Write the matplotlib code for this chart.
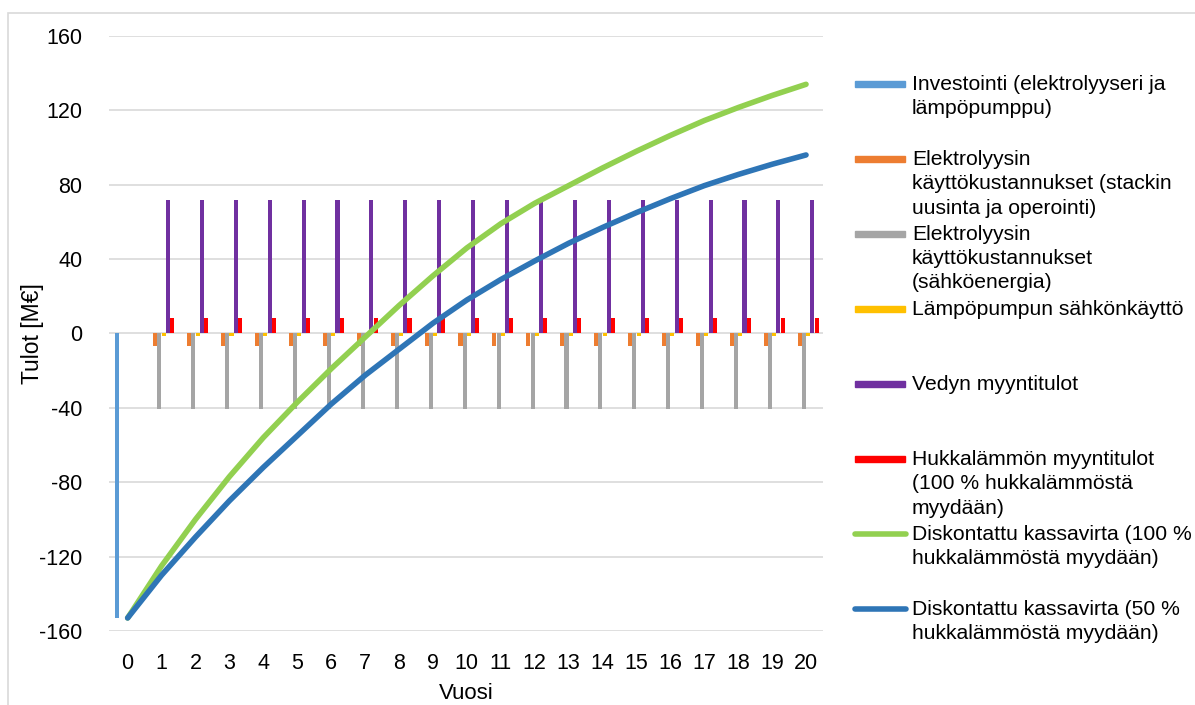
import numpy as np
import matplotlib.pyplot as plt
from matplotlib.patches import Rectangle
from matplotlib.lines import Line2D

plt.rcParams['font.family'] = ['Liberation Sans', 'DejaVu Sans']
plt.rcParams['axes.unicode_minus'] = False

# Vuodet 0..20
vuodet = np.arange(0, 21)

# Pylväät (M€)
investointi = [-153] + [0] * 20
elektrolyysi_stack = [0] + [-6.8] * 20
elektrolyysi_sahko = [0] + [-40.5] * 20
lampopumppu_sahko = [0] + [-1.2] * 20
vety_tulot = [0] + [72] * 20
hukkalampo_tulot = [0] + [8.4] * 20

# Diskontattu kassavirta
kassavirta_100 = [-153, -125, -100, -77, -56, -37, -19, -2, 15, 31, 46,
                  59, 70, 79.5, 89, 98, 106.5, 114.5, 121.5, 128, 134]
kassavirta_50 = [-153, -130, -109.5, -90, -72, -55, -38, -22.5, -8.5, 5.5, 18,
                 29, 39, 48.5, 57, 65, 72.5, 79.5, 85.5, 91, 96]

y_ticks = [-160, -120, -80, -40, 0, 40, 80, 120, 160]

bar_series = [
    (investointi, '#5B9BD5', 'Investointi (elektrolyyseri ja\nlämpöpumppu)'),
    (elektrolyysi_stack, '#ED7D31', 'Elektrolyysin\nkäyttökustannukset (stackin\nuusinta ja operointi)'),
    (elektrolyysi_sahko, '#A5A5A5', 'Elektrolyysin\nkäyttökustannukset\n(sähköenergia)'),
    (lampopumppu_sahko, '#FFC000', 'Lämpöpumpun sähkönkäyttö'),
    (vety_tulot, '#7030A0', 'Vedyn myyntitulot'),
    (hukkalampo_tulot, '#FF0000', 'Hukkalämmön myyntitulot\n(100 % hukkalämmöstä\nmyydään)'),
]
line_series = [
    (kassavirta_100, '#92D050', 'Diskontattu kassavirta (100 %\nhukkalämmöstä myydään)'),
    (kassavirta_50, '#2E75B6', 'Diskontattu kassavirta (50 %\nhukkalämmöstä myydään)'),
]

fig = plt.figure(figsize=(11.95, 7.05), dpi=100)
ax = fig.add_axes([0.0912, 0.105, 0.5975, 0.844])

step = 0.124
width = 0.12
for i, (vals, col, _) in enumerate(bar_series):
    ax.bar(vuodet + (i - 2.5) * step, vals, width=width, color=col, zorder=2)

for vals, col, _ in line_series:
    ax.plot(vuodet, vals, color=col, lw=4, solid_capstyle='round',
            solid_joinstyle='round', zorder=3)

ax.set_xlim(-0.55, 20.5)
ax.set_ylim(-160, 160)
ax.set_yticks(y_ticks)
ax.set_xticks(vuodet)
ax.grid(axis='y', color='#d9d9d9', lw=1.2, zorder=0)
ax.set_axisbelow(True)
for s in ax.spines.values():
    s.set_visible(False)
ax.tick_params(axis='both', length=0, labelsize=15.5, colors='black')
ax.tick_params(axis='y', pad=19)
ax.tick_params(axis='x', pad=16)
ax.set_xlabel('Vuosi', fontsize=16, labelpad=6)
ax.set_ylabel('Tulot [M€]', fontsize=16.5, labelpad=-3)

# Selite käsin, jotta merkki on ensimmäisen rivin kohdalla
W, H = 1195, 705
entries = [(c, l, 'bar') for _, c, l in bar_series] + [(c, l, 'line') for _, c, l in line_series]
y0, dy = 84, 75.0
for k, (col, lab, kind) in enumerate(entries):
    yc = y0 + k * dy
    if kind == 'bar':
        fig.add_artist(Rectangle((855 / W, 1 - (yc + 3) / H), 50 / W, 6 / H,
                                 color=col, transform=fig.transFigure))
    else:
        fig.add_artist(Line2D([855 / W, 906 / W], [1 - yc / H, 1 - yc / H], color=col,
                              lw=4, solid_capstyle='round', transform=fig.transFigure))
    fig.text(912 / W, 1 - (yc - 9) / H, lab, fontsize=15.2, va='top', ha='left',
             linespacing=1.35)

# Kaavioalueen reunus
fig.add_artist(Rectangle((8 / W, -0.01), 1.0, 1 - 13 / H + 0.01, fill=False,
                         edgecolor='#d9d9d9', lw=1.2, transform=fig.transFigure))

fig.savefig('out.png', dpi=100)
